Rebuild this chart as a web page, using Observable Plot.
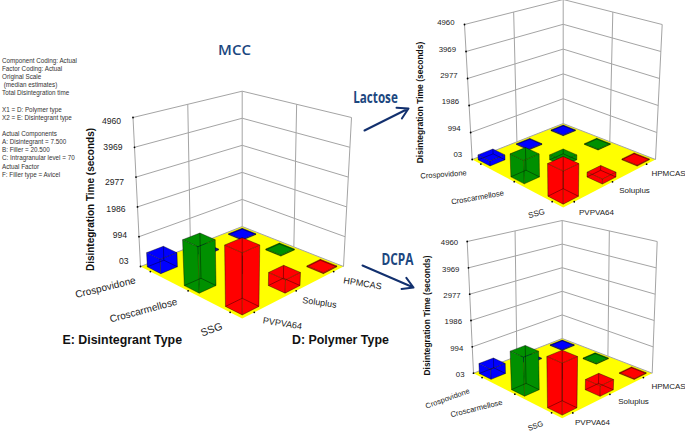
<!DOCTYPE html>
<html>
<head>
<meta charset="utf-8">
<script src="https://cdn.jsdelivr.net/npm/d3@7"></script>
<script src="https://cdn.jsdelivr.net/npm/@observablehq/plot@0.6"></script>
<style>html,body{margin:0;padding:0;background:#fff}svg{display:block}</style>
</head>
<body>
<div id="chart"></div>
<script>
// ---------- data ----------
const polymers = ["PVPVA64", "Soluplus", "HPMCAS"];
const disintegrants = ["SSG", "Croscarmellose", "Crospovidone"];
const barColors = ["#ff0000", "#009000", "#0000ff"];
const zTickValues = [3, 994, 1986, 2977, 3969, 4960];
const zTickLabels = ["03", "994", "1986", "2977", "3969", "4960"];

// median disintegration time, one list per disintegrant, in polymer order
const mccSSG = [1900, 420, 30];
const mccCroscarmellose = [1470, 150, 30];
const mccCrospovidone = [470, 30, 30];
const lactoseSSG = [1115, 170, 30];
const lactoseCroscarmellose = [815, 180, 30];
const lactoseCrospovidone = [180, 30, 30];
const dcpaSSG = [1780, 370, 30];
const dcpaCroscarmellose = [1390, 150, 30];
const dcpaCrospovidone = [375, 30, 30];

const noteLines = ["Component Coding: Actual", "Factor Coding: Actual", "Original Scale", " (median estimates)",
  "Total Disintegration time", "", "X1 = D: Polymer type", "X2 = E: Disintegrant type", "",
  "Actual Components", "A: Disintegrant = 7.500", "B: Filler = 20.500", "C: Intragranular level = 70",
  "Actual Factor", "F: Filler type = Avicel"];

// ---------- camera of each of the three panels ----------
const panels = [
  {
    table: [mccSSG, mccCroscarmellose, mccCrospovidone],
    floor: {F: [241.7, 318], R: [343, 266], L: [140, 266], B: [241.7, 226]},
    top: {F: [241.7, 155], R: [351, 117], L: [132.5, 117], B: [241.7, 90.7]},
    tickDx: -12, tickDy: [-5, -1, 2.7, 5, 0, 3.7], tickSize: 8.6,
    title: {x: 90, y: 199, size: 10},
    labels: [
      {t: "Crospovidone", x: 105, y: 287, r: -14, s: 10}, {t: "Croscarmellose", x: 143, y: 310, r: -15, s: 10},
      {t: "SSG", x: 211, y: 329, r: -20, s: 10.5}, {t: "PVPVA64", x: 282, y: 323, r: 9, s: 9},
      {t: "Soluplus", x: 319, y: 302, r: 8, s: 9}, {t: "HPMCAS", x: 362, y: 283, r: 9, s: 9}
    ]
  },
  {
    table: [lactoseSSG, lactoseCroscarmellose, lactoseCrospovidone],
    floor: {F: [562.7, 207], R: [655, 159], L: [471.7, 159], B: [562.7, 123]},
    top: {F: [562.7, 59], R: [661.7, 24], L: [464, 24], B: [562.7, -1]},
    tickDx: -10, tickDy: [-5.3, -4, -3.7, -2.7, -2.3, -2], tickSize: 7.8,
    title: {x: 420, y: 102, size: 8.5},
    labels: [
      {t: "Crospovidone", x: 443, y: 174, r: -4, s: 7.5}, {t: "Croscarmellose", x: 477, y: 197, r: -10, s: 7.7},
      {t: "SSG", x: 536, y: 213, r: -15, s: 8}, {t: "PVPVA64", x: 596, y: 212, r: 0, s: 8},
      {t: "Soluplus", x: 634, y: 190, r: 0, s: 8}, {t: "HPMCAS", x: 668, y: 173, r: 0, s: 8}
    ]
  },
  {
    table: [dcpaSSG, dcpaCroscarmellose, dcpaCrospovidone],
    floor: {F: [561.7, 417.7], R: [651.7, 372.7], L: [473, 372.7], B: [561.7, 338]},
    top: {F: [561.7, 272], R: [656.7, 241], L: [466.7, 241], B: [561.7, 220]},
    tickDx: -9, tickDy: [1.3, 1.3, 1.3, 1.3, 1.3, 1.3], tickSize: 7.8,
    title: {x: 427, y: 315, size: 8.4},
    labels: [
      {t: "Crospovidone", x: 447, y: 398, r: -20, s: 7.5}, {t: "Croscarmellose", x: 476, y: 408, r: -14, s: 7.7},
      {t: "SSG", x: 535, y: 425.5, r: -20, s: 7.5}, {t: "PVPVA64", x: 592, y: 422, r: 0, s: 8},
      {t: "Soluplus", x: 633, y: 401, r: 0, s: 8}, {t: "HPMCAS", x: 668, y: 386, r: 0, s: 8}
    ]
  }
];

// ---------- projection helpers ----------
const uScale = d3.scalePoint(polymers, [0.105, 0.89]);
const vScale = d3.scalePoint(disintegrants, [0.105, 0.89]);
const zScale = d3.scaleLinear([3, 4960], [0, 1]);
const halfWidth = 0.074;
const wallMid = 0.46;

function homography({F, R, L, B}) {
  const dx1 = R[0] - B[0], dx2 = L[0] - B[0], sx = F[0] - R[0] + B[0] - L[0];
  const dy1 = R[1] - B[1], dy2 = L[1] - B[1], sy = F[1] - R[1] + B[1] - L[1];
  const den = dx1 * dy2 - dx2 * dy1;
  const g = (sx * dy2 - dx2 * sy) / den, h = (dx1 * sy - sx * dy1) / den;
  const a = R[0] - F[0] + g * R[0], b = L[0] - F[0] + h * L[0];
  const d = R[1] - F[1] + g * R[1], e = L[1] - F[1] + h * L[1];
  return (u, v) => {
    const w = g * u + h * v + 1;
    return [(a * u + b * v + F[0]) / w, (d * u + e * v + F[1]) / w];
  };
}
function projector(panel) {
  const low = homography(panel.floor), high = homography(panel.top);
  return (u, v, z) => {
    const p = low(u, v), q = high(u, v), t = zScale(z);
    return [p[0] + (q[0] - p[0]) * t, p[1] + (q[1] - p[1]) * t];
  };
}
const X = d => d[0], Y = d => d[1];
const seg = (a, b) => ({x1: a[0], y1: a[1], x2: b[0], y2: b[1]});

// ---------- marks ----------
const marks = [];

for (const panel of panels) {
  const P = projector(panel);
  const zMin = zTickValues[0], zMax = zTickValues[5];

  // yellow floor
  marks.push(Plot.line([P(0,0,zMin), P(1,0,zMin), P(1,1,zMin), P(0,1,zMin), P(0,0,zMin)],
    {x: X, y: Y, fill: "#ffff00", stroke: "none"}));

  // walls
  const grid = [];
  for (const z of zTickValues.slice(1)) {
    grid.push(seg(P(0,1,z), P(1,1,z)), seg(P(1,1,z), P(1,0,z)));
  }
  for (const [u, v] of [[0,1],[wallMid,1],[1,1],[1,wallMid],[1,0]]) grid.push(seg(P(u,v,zMin), P(u,v,zMax)));
  grid.push(seg(P(0,1,zMin), P(1,1,zMin)), seg(P(1,1,zMin), P(1,0,zMin)));
  marks.push(Plot.link(grid, {x1: "x1", y1: "y1", x2: "x2", y2: "y2", stroke: "#a4a4a4", strokeWidth: 1}));

  // value ticks on the left wall edge
  const ticks = zTickValues.map((z, i) => ({p: P(0,1,z), label: zTickLabels[i], dy: panel.tickDy[i]}));
  marks.push(Plot.dot(ticks, {x: d => d.p[0], y: d => d.p[1], r: 0.9, fill: "#000"}));
  marks.push(Plot.text(ticks, {x: d => d.p[0] + panel.tickDx, y: d => d.p[1] + d.dy, text: "label",
    textAnchor: "end", fontSize: panel.tickSize, fill: "#222"}));

  // category ticks on the floor edges
  const catTicks = [...polymers.map(c => P(uScale(c), 0, zMin)), ...disintegrants.map(c => P(0, vScale(c), zMin))];
  marks.push(Plot.dot(catTicks, {x: X, y: Y, r: 0.9, fill: "#000"}));

  // bars, far ones first
  const bars = [];
  disintegrants.forEach((dis, i) => polymers.forEach((pol, j) => {
    bars.push({u: uScale(pol), v: vScale(dis), value: panel.table[i][j], color: barColors[i]});
  }));
  bars.sort((a, b) => (b.u + b.v) - (a.u + a.v));
  for (const bar of bars) {
    const u0 = bar.u - halfWidth, u1 = bar.u + halfWidth, v0 = bar.v - halfWidth, v1 = bar.v + halfWidth;
    const a = P(u0,v0,0), b = P(u1,v0,0), c = P(u1,v1,0), d = P(u0,v1,0);
    const A = P(u0,v0,bar.value), B = P(u1,v0,bar.value), C = P(u1,v1,bar.value), D = P(u0,v1,bar.value);
    for (const face of [[a,d,D,A],[a,b,B,A],[A,B,C,D]]) {
      marks.push(Plot.line([...face, face[0]], {x: X, y: Y, fill: bar.color, stroke: "none"}));
    }
    marks.push(Plot.link(
      [seg(a,b),seg(b,c),seg(c,d),seg(d,a),seg(A,B),seg(B,C),seg(C,D),seg(D,A),seg(a,A),seg(b,B),seg(c,C),seg(d,D)],
      {x1: "x1", y1: "y1", x2: "x2", y2: "y2", stroke: "#000", strokeWidth: 0.6, strokeOpacity: 0.65}));
  }

  // axis texts
  marks.push(Plot.text(["Disintegration Time (seconds)"], {x: () => panel.title.x, y: () => panel.title.y, text: d => d,
    rotate: -90, fontSize: panel.title.size, fontWeight: 700, fill: "#111"}));
  for (const l of panel.labels) {
    marks.push(Plot.text([l.t], {x: () => l.x, y: () => l.y, text: d => d, rotate: l.r, fontSize: l.s, fill: "#222"}));
  }
}

// notes, headings, arrows
marks.push(Plot.text(noteLines, {x: () => 1.5, y: (d, i) => 60.3 + i * 8.13, text: d => d, textAnchor: "start",
  fontSize: 6.3, fill: "#333"}));
marks.push(Plot.text(["MCC"], {x: () => 234, y: () => 50, text: d => d, fontSize: 15, fontWeight: 600,
  fontFamily: "Open Sans", fill: "#1c4780"}));
marks.push(Plot.text(["Lactose"], {x: () => 375, y: () => 97, text: d => d, fontSize: 16, fontWeight: 700,
  fontFamily: "Open Sans", fill: "#1c4780"}));
marks.push(Plot.text(["DCPA"], {x: () => 397, y: () => 259, text: d => d, fontSize: 16, fontWeight: 700,
  fontFamily: "Open Sans", fill: "#1c4780"}));
marks.push(Plot.text(["E: Disintegrant Type"], {x: () => 62, y: () => 340, text: d => d, textAnchor: "start",
  fontSize: 12.4, fontWeight: 700, fill: "#111"}));
marks.push(Plot.text(["D: Polymer Type"], {x: () => 291.5, y: () => 340, text: d => d, textAnchor: "start",
  fontSize: 12.4, fontWeight: 700, fill: "#111"}));
marks.push(Plot.arrow([{x1: 364, y1: 130, x2: 408, y2: 108}, {x1: 362, y1: 265, x2: 413, y2: 287}],
  {x1: "x1", y1: "y1", x2: "x2", y2: "y2", stroke: "#12306e", strokeWidth: 2, headLength: 9, bend: false}));

const chart = Plot.plot({
  width: 685, height: 432, margin: 0,
  x: {domain: [0, 685], range: [0, 685], axis: null},
  y: {domain: [0, 432], range: [0, 432], axis: null},
  style: {fontFamily: "'Liberation Sans', Arial, sans-serif", background: "#fff"},
  marks
});
document.getElementById("chart").appendChild(chart);

// the two condensed headings
const condensed = {Lactose: 44.5, DCPA: 32};
d3.select(chart).selectAll("text").each(function () {
  const w = condensed[this.textContent];
  if (w) { this.setAttribute("textLength", w); this.setAttribute("lengthAdjust", "spacingAndGlyphs"); }
});
</script>
</body>
</html>
